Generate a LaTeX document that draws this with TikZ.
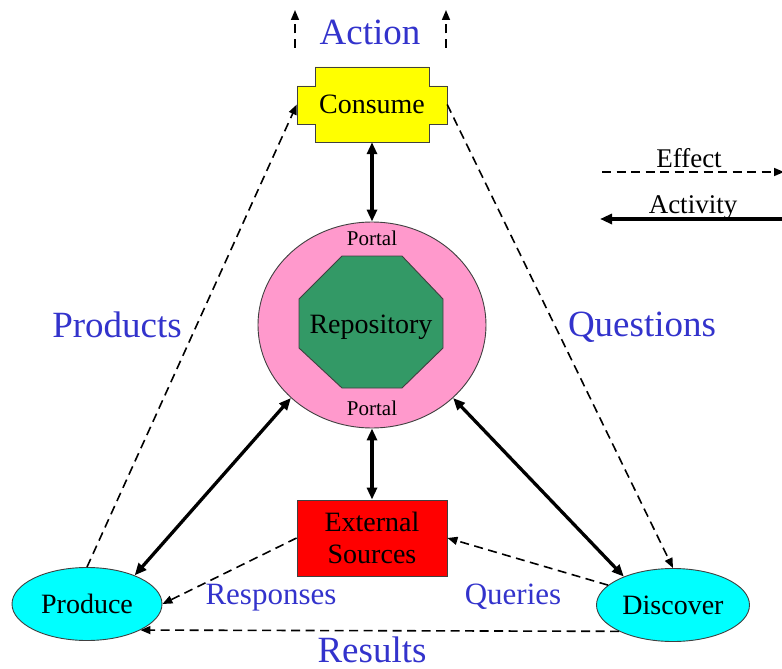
\documentclass[tikz,border=0pt]{standalone}
\usepackage{fontspec}
\setmainfont{Liberation Serif}
\usetikzlibrary{arrows.meta,shapes.geometric}
\definecolor{lblue}{RGB}{51,51,204}
\definecolor{pinkc}{RGB}{255,153,204}
\definecolor{greenc}{RGB}{51,153,102}
\definecolor{yellowc}{RGB}{255,255,0}
\definecolor{cyanc}{RGB}{0,255,255}
\definecolor{redc}{RGB}{255,0,0}
\begin{document}
\begin{tikzpicture}[x=1pt,y=-1pt,
  outline/.style={draw=black!75,line width=0.9pt},
  intext/.style={font=\fontsize{28}{32}\selectfont,inner sep=0pt},
  smalltext/.style={font=\fontsize{21}{24}\selectfont,inner sep=0pt,anchor=base},
  biglabel/.style={font=\fontsize{37}{40}\selectfont,text=lblue,inner sep=0pt,anchor=base},
  midlabel/.style={font=\fontsize{31}{34}\selectfont,text=lblue,inner sep=0pt,anchor=base},
  legtext/.style={font=\fontsize{27}{30}\selectfont,inner sep=0pt,anchor=base},
  thickarr/.style={line width=3.3pt,{Triangle[length=12pt,width=10pt]}-{Triangle[length=12pt,width=10pt]}},
  dasharr/.style={line width=1.6pt,dash pattern=on 9pt off 5.5pt,-{Triangle[length=10pt,width=8pt]}}
]
\clip (0,0) rectangle (782,669);
\fill[white] (0,0) rectangle (782,669);

% Consume (cross shape)
\draw[outline,fill=yellowc] (315,67) -- (429,67) -- (429,86) -- (447,86) -- (447,124) -- (429,124)
  -- (429,142) -- (315,142) -- (315,124) -- (297,124) -- (297,86) -- (315,86) -- cycle;
\node[intext,minimum width=150pt,minimum height=75pt] (consume) at (372,104.5) {Consume};

% Repository with portal
\node[ellipse,outline,fill=pinkc,minimum width=228pt,minimum height=206pt,inner sep=0pt] (repo) at (372,325) {};
\draw[outline,fill=greenc] (342,256) -- (402,256) -- (443,299) -- (443,348) -- (402,388)
  -- (342,388) -- (299,348) -- (299,299) -- cycle;
\node[intext,anchor=base] (repotext) at (371,333) {Repository};
\node[smalltext] (portaltop) at (372,245) {Portal};
\node[smalltext] (portalbot) at (372,415) {Portal};

% External sources
\node[rectangle,outline,fill=redc,minimum width=150pt,minimum height=76pt,inner sep=0pt,
  font=\fontsize{28}{32}\selectfont,align=center] (ext) at (372,538) {External\\Sources};

% Produce / Discover
\node[ellipse,outline,fill=cyanc,minimum width=150pt,minimum height=73pt,intext] (produce) at (87,604) {Produce};
\node[ellipse,outline,fill=cyanc,minimum width=153pt,minimum height=73pt,intext] (discover) at (673,605) {Discover};

% Activity arrows (thick)
\draw[thickarr] (consume.south) -- (repo.north);
\draw[thickarr] (repo.south) -- (ext.north);
\draw[thickarr] (repo.222) -- (produce.31);
\draw[thickarr] (repo.318) -- (discover.150);

% Effect arrows (dashed)
\draw[dasharr] (produce.north) -- (consume.west);
\draw[dasharr] (consume.east) -- (discover.north);
\draw[dasharr] (ext.west) -- (produce.east);
\draw[dasharr] (discover.163) -- (ext.east);
\draw[dasharr] (discover.206) -- (produce.334);

% Action arrows
\coordinate (a1s) at (295,48); \coordinate (a1e) at (295,10);
\coordinate (a2s) at (446,48); \coordinate (a2e) at (446,10);
\draw[dasharr] (a1s) -- (a1e);
\draw[dasharr] (a2s) -- (a2e);

% Labels
\node[biglabel] (action) at (370,45) {Action};
\node[biglabel] (products) at (117,337) {Products};
\node[biglabel] (questions) at (642,336) {Questions};
\node[biglabel] (results) at (372,662) {Results};
\node[midlabel] (responses) at (271,604) {Responses};
\node[midlabel] (queries) at (513,604) {Queries};

% Legend
\node[legtext] (effect) at (689,167) {Effect};
\node[legtext] (activity) at (693,213) {Activity};
\coordinate (effs) at (602,172); \coordinate (effe) at (784,172);
\coordinate (acts) at (790,219); \coordinate (acte) at (600,219);
\draw[dasharr] (effs) -- (effe);
\draw[line width=3.3pt,-{Triangle[length=12pt,width=10pt]}] (acts) -- (acte);
\end{tikzpicture}
\end{document}
